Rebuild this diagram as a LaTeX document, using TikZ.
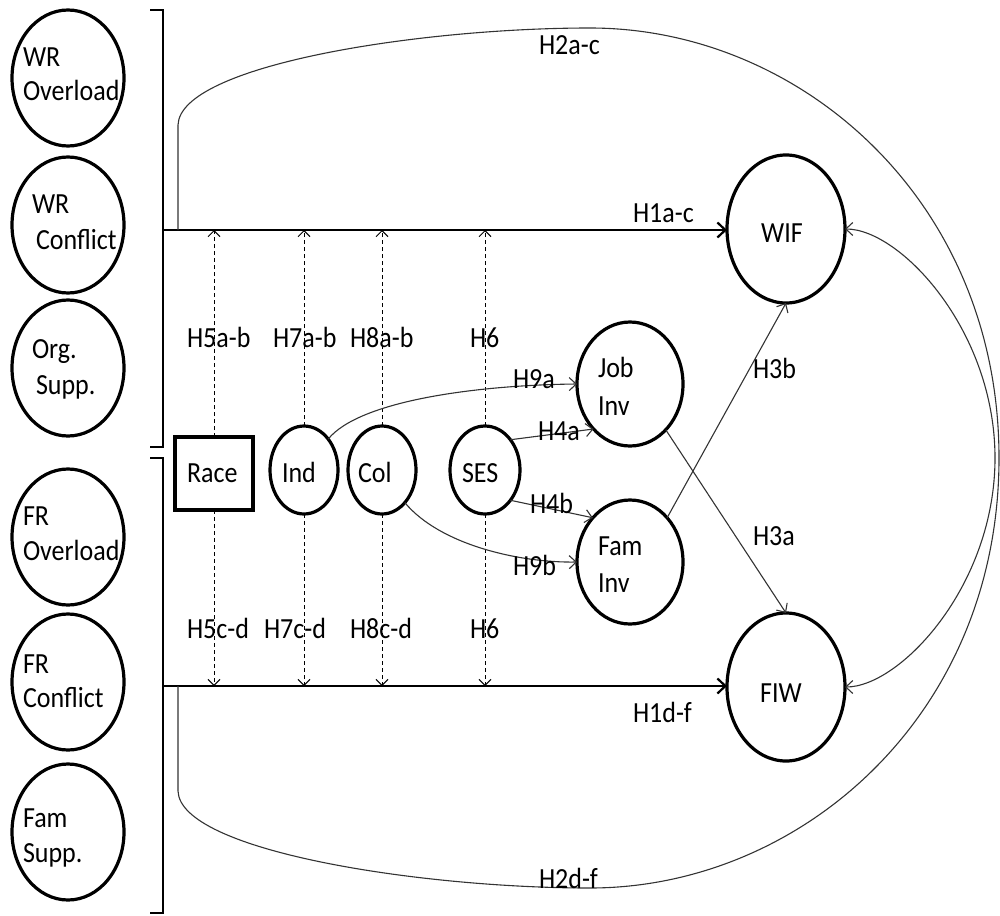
\documentclass[tikz,border=0pt]{standalone}
\usepackage{fontspec}
\setmainfont[FakeStretch=0.89]{Carlito}
\usetikzlibrary{shapes.geometric,arrows.meta}
\begin{document}
\begin{tikzpicture}[x=1pt,y=-1pt,
  every node/.style={font=\fontsize{29.2}{32}\selectfont, inner sep=0pt, outer sep=0pt},
  bigcirc/.style={draw, line width=3.2pt, ellipse, minimum width=112pt, minimum height=136pt},
  midcirc/.style={draw, line width=3.2pt, ellipse, minimum width=68pt, minimum height=88pt},
  invcirc/.style={draw, line width=3.2pt, ellipse, minimum width=106pt, minimum height=124pt},
  outcirc/.style={draw, line width=3.2pt, ellipse, minimum width=118pt, minimum height=148pt},
  txt/.style={anchor=base west},
  bracket/.style={line width=2.2pt},
  mainarrow/.style={line width=2.4pt, -{Straight Barb[length=8pt,width=15pt,line width=2.2pt]}},
  thinarrow/.style={line width=1.1pt, draw=black!80, -{Straight Barb[length=7pt,width=13pt]}},
  dasharrow/.style={line width=1pt, dash pattern=on 4pt off 3pt, -{Straight Barb[length=6pt,width=12pt]}},
  loopline/.style={line width=1.1pt, draw=black!80},
]
\useasboundingbox (0,0) rectangle (1000,915);

% left circles
\node[bigcirc] (wro) at (68,78) {};
\node[bigcirc] (wrc) at (68,225) {};
\node[bigcirc] (org) at (68,368) {};
\node[bigcirc] (fro) at (68,537) {};
\node[bigcirc] (frc) at (68,682) {};
\node[bigcirc] (fam) at (68,832) {};

\node[txt] (wro1) at (23,67) {WR};
\node[txt] (wro2) at (23,100) {Overload};
\node[txt] (wrc1) at (32,213) {WR};
\node[txt] (wrc2) at (36,249) {Conflict};
\node[txt] (org1) at (32,358) {Org.};
\node[txt] (org2) at (36,394) {Supp.};
\node[txt] (fro1) at (23,525) {FR};
\node[txt] (fro2) at (23,560) {Overload};
\node[txt] (frc1) at (23,673) {FR};
\node[txt] (frc2) at (23,707) {Conflict};
\node[txt] (fam1) at (23,827) {Fam};
\node[txt] (fam2) at (23,862) {Supp.};

% brackets
\draw[bracket] (150,10) -- (163,10) -- (163,447) -- (150,447);
\draw[bracket] (150,458) -- (163,458) -- (163,913) -- (150,913);
\coordinate (wbr) at (163,230);
\coordinate (fbr) at (163,686);

% moderators
\node[draw, line width=3.2pt, minimum width=78pt, minimum height=73pt] (race) at (214,473.5) {};
\node[txt] (racet) at (187,482) {Race};
\node[midcirc] (ind) at (304,470) {};
\node[txt] (indt) at (282,482) {Ind};
\node[midcirc] (col) at (382,470) {};
\node[txt] (colt) at (358,482) {Col};
\node[midcirc, minimum width=70pt] (ses) at (485,470) {};
\node[txt] (sest) at (462,482) {SES};

% involvement
\node[invcirc] (job) at (630,384) {};
\node[txt] (job1) at (598,377) {Job};
\node[txt] (job2) at (598,415) {Inv};
\node[invcirc] (fami) at (630,562) {};
\node[txt] (fami1) at (598,555) {Fam};
\node[txt] (fami2) at (598,592) {Inv};

% outcomes
\node[outcirc] (wif) at (786,229) {};
\node[anchor=base] (wift) at (782,242) {WIF};
\node[outcirc] (fiw) at (786,687) {};
\node[anchor=base] (fiwt) at (781,702) {FIW};

% main arrows
\draw[mainarrow] (wbr) -- (wif.west |- wbr);
\draw[mainarrow] (fbr) -- (fiw.west |- fbr);
\node[txt] (h1ac) at (633,222) {H1a-c};
\node[txt] (h1df) at (633,722) {H1d-f};

% big loop (H2)
\draw[loopline] (178,230) -- (178,125)
  .. controls (180,65) and (420,28) .. (590,28)
  .. controls (800,28) and (999,200) .. (999,458)
  .. controls (999,716) and (800,888) .. (590,888)
  .. controls (420,888) and (180,851) .. (178,791) -- (178,686);
\node[txt] (h2ac) at (539,55) {H2a-c};
\node[txt] (h2df) at (539,888) {H2d-f};

% WIF <-> FIW
\draw[thinarrow, {Straight Barb[length=7pt,width=13pt]}-{Straight Barb[length=7pt,width=13pt]}]
  (wif.east) .. controls (900,229) and (995,330) .. (995,458)
  .. controls (995,586) and (900,687) .. (fiw.east);

% dashed moderator arrows
\draw[dasharrow] (race.north) -- (race.north |- wbr);
\draw[dasharrow] (ind.north) -- (ind.north |- wbr);
\draw[dasharrow] (col.north) -- (col.north |- wbr);
\draw[dasharrow] (ses.north) -- (ses.north |- wbr);
\draw[dasharrow] (race.south) -- (race.south |- fbr);
\draw[dasharrow] (ind.south) -- (ind.south |- fbr);
\draw[dasharrow] (col.south) -- (col.south |- fbr);
\draw[dasharrow] (ses.south) -- (ses.south |- fbr);

\node[txt] (h5ab) at (187,347) {H5a-b};
\node[txt] (h7ab) at (273,347) {H7a-b};
\node[txt] (h8ab) at (350,347) {H8a-b};
\node[txt] (h6a) at (470,347) {H6};
\node[txt] (h5cd) at (187,638) {H5c-d};
\node[txt] (h7cd) at (264,638) {H7c-d};
\node[txt] (h8cd) at (350,638) {H8c-d};
\node[txt] (h6b) at (470,638) {H6};

% involvement paths
\draw[thinarrow] (ind.52) .. controls (360,400) and (480,385) .. (job.west);
\draw[thinarrow] (col.-55) .. controls (440,545) and (520,563) .. (fami.west);
\draw[thinarrow] (ses.50) -- (job.231);
\draw[thinarrow] (ses.-50) -- (fami.130);
\draw[thinarrow] (fami.50) -- (wif.south);
\draw[thinarrow] (job.-52) -- (fiw.north);

\node[txt] (h9a) at (513,388) {H9a};
\node[txt] (h4a) at (538,440) {H4a};
\node[txt] (h4b) at (530,513) {H4b};
\node[txt] (h9b) at (513,575) {H9b};
\node[txt] (h3b) at (753,378) {H3b};
\node[txt] (h3a) at (753,545) {H3a};
\end{tikzpicture}
\end{document}
